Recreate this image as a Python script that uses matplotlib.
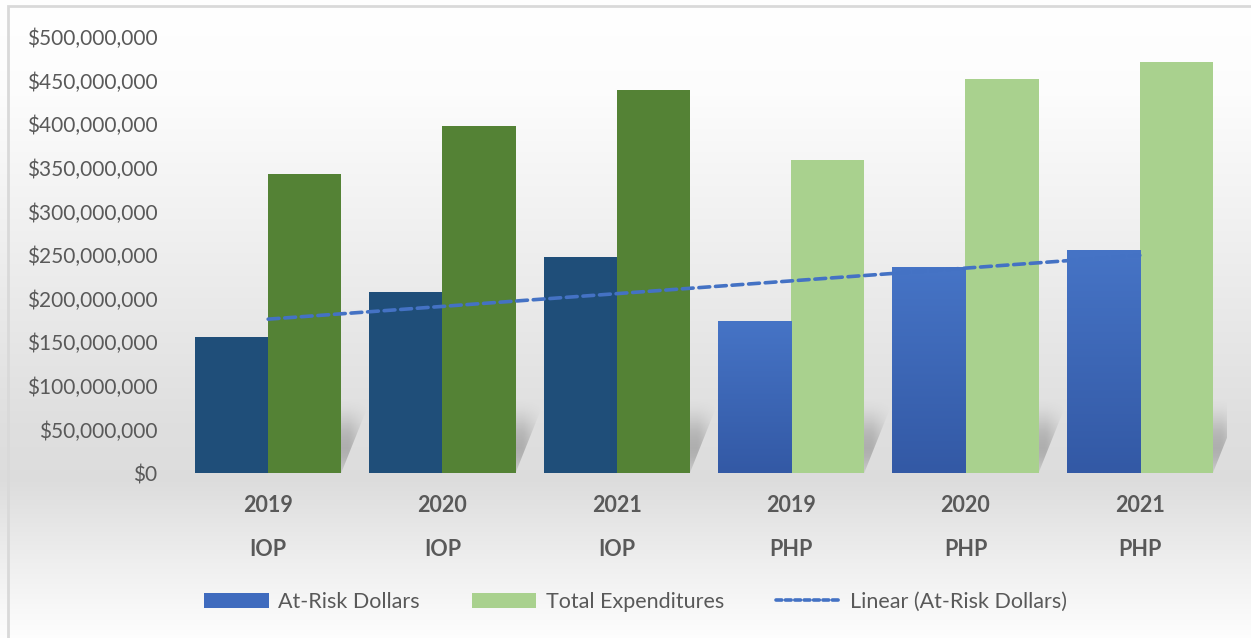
import numpy as np
import matplotlib
matplotlib.use("Agg")
import matplotlib.pyplot as plt
from matplotlib.patches import Patch, Rectangle, Polygon
from matplotlib.lines import Line2D
from matplotlib.ticker import FuncFormatter
from matplotlib.colors import LinearSegmentedColormap

plt.rcParams['font.family'] = ['Lato', 'DejaVu Sans']

# data
years = ['2019', '2020', '2021', '2019', '2020', '2021']
programs = ['IOP', 'IOP', 'IOP', 'PHP', 'PHP', 'PHP']
at_risk = [156e6, 207.5e6, 248e6, 174.5e6, 236e6, 256e6]
total_exp = [343e6, 398e6, 439e6, 359e6, 452e6, 471e6]

risk_colors = ['#1F4E79', '#1F4E79', '#1F4E79', '#4472C4', '#4472C4', '#4472C4']
total_colors = ['#548235', '#548235', '#548235', '#A9D18E', '#A9D18E', '#A9D18E']
txt = '#595959'

W, H = 1251, 638
fig = plt.figure(figsize=(W / 100, H / 100), dpi=100)

# background gradient (white -> grey -> white)
bg = fig.add_axes([0, 0, 1, 1], zorder=-10)
rows = np.arange(H)
stops_y = [0, 90, 420, 480, 560, 638]
stops_v = [1.0, 0.99, 0.875, 0.865, 0.935, 0.995]
col = np.interp(rows, stops_y, stops_v)
img = np.repeat(col[:, None], 4, axis=1)
bg.imshow(np.dstack([img, img, img]), aspect='auto', extent=[0, 1, 0, 1],
          interpolation='bilinear')
bg.add_patch(Rectangle((8 / W, -0.01), 1.0, 1 - 6 / H + 0.01, fill=False,
                       edgecolor='#d9d9d9', linewidth=2, transform=bg.transAxes))
bg.set_xlim(0, 1)
bg.set_ylim(0, 1)
bg.axis('off')

ax = fig.add_axes([181 / W, 1 - 473 / H, (1227 - 181) / W, (473 - 37) / H])
ax.set_facecolor('none')

x = np.arange(1, len(years) + 1)
bw = 0.419

# soft shadows behind each group
shade = LinearSegmentedColormap.from_list('sh', [(0.38, 0.38, 0.38, 0.0), (0.38, 0.38, 0.38, 1.0)])
for xi in x:
    x0, x1 = xi - bw, xi + bw
    skew = 0.17
    top = 85e6
    t = np.linspace(0, 1, 80)[:, None]
    u = np.linspace(0, 1, 80)[None, :]
    a = 0.5 * np.sin(np.pi * np.clip(t * 0.9 + 0.1, 0, 1)) ** 1.2 * (1 - t) ** 0.6
    a = a * np.clip((1 - u) / 0.12, 0, 1)
    im = ax.imshow(a, cmap=shade, vmin=0, vmax=1, origin='lower', aspect='auto',
                   extent=[x0, x1 + skew, 0, top], interpolation='bilinear', zorder=1)
    poly = Polygon([(x0, 0), (x1, 0), (x1 + skew, top), (x0 + skew, top)],
                   closed=True, transform=ax.transData, facecolor='none', edgecolor='none')
    ax.add_patch(poly)
    im.set_clip_path(poly)

bars_r = ax.bar(x - bw / 2, at_risk, width=bw, color=risk_colors, zorder=2, linewidth=0)
ax.bar(x + bw / 2, total_exp, width=bw, color=total_colors, zorder=2, linewidth=0)

# gradient on the PHP at-risk bars
blue = LinearSegmentedColormap.from_list('bl', ['#3359A5', '#4674C6'])
for b, p in zip(bars_r, programs):
    if p == 'PHP':
        bx, by = b.get_x(), b.get_height()
        g = np.linspace(0, 1, 100)[:, None]
        gi = ax.imshow(g, cmap=blue, origin='lower', aspect='auto',
                       extent=[bx, bx + b.get_width(), 0, by], zorder=2.1,
                       interpolation='bilinear')
        gi.set_clip_path(b)

# linear trend of at-risk dollars
k, c = np.polyfit(x, at_risk, 1)
xt = np.array([x[0], x[-1]])
ax.plot(xt, k * xt + c, color='#4472C4', linewidth=2.6, linestyle=(0, (3.0, 1.6)),
        dash_capstyle='round', zorder=3)

ax.set_xlim(0.5, 6.5)
ax.set_ylim(0, 500e6)
ax.set_yticks(np.arange(0, 500e6 + 1, 50e6))
ax.yaxis.set_major_formatter(FuncFormatter(lambda v, p: '${:,.0f}'.format(v)))
ax.tick_params(axis='y', length=0, pad=17, labelsize=15, labelcolor=txt)
ax.set_xticks([])
for s in ax.spines.values():
    s.set_visible(False)

tr = ax.get_xaxis_transform()
for xi, yr, pg in zip(x, years, programs):
    ax.text(xi, -32 / 436, yr, transform=tr, ha='center', va='center',
            fontsize=15.5, fontweight='bold', color=txt)
    ax.text(xi, -77 / 436, pg, transform=tr, ha='center', va='center',
            fontsize=15.5, fontweight='bold', color=txt)

handles = [Patch(facecolor='#3F6BBE', edgecolor='none'),
           Patch(facecolor='#A9D18E', edgecolor='none'),
           Line2D([0], [0], color='#4472C4', linewidth=2.6, linestyle=(0, (1.6, 1.0)),
                  dash_capstyle='round')]
fig.legend(handles, ['At-Risk Dollars', 'Total Expenditures', 'Linear (At-Risk Dollars)'],
           loc='center', bbox_to_anchor=(0.508, 1 - 602 / H), ncol=3, frameon=False,
           fontsize=15.5, labelcolor=txt, handlelength=3.0, handleheight=0.75,
           handletextpad=0.45, columnspacing=2.4)

fig.savefig('out.png', dpi=100)
